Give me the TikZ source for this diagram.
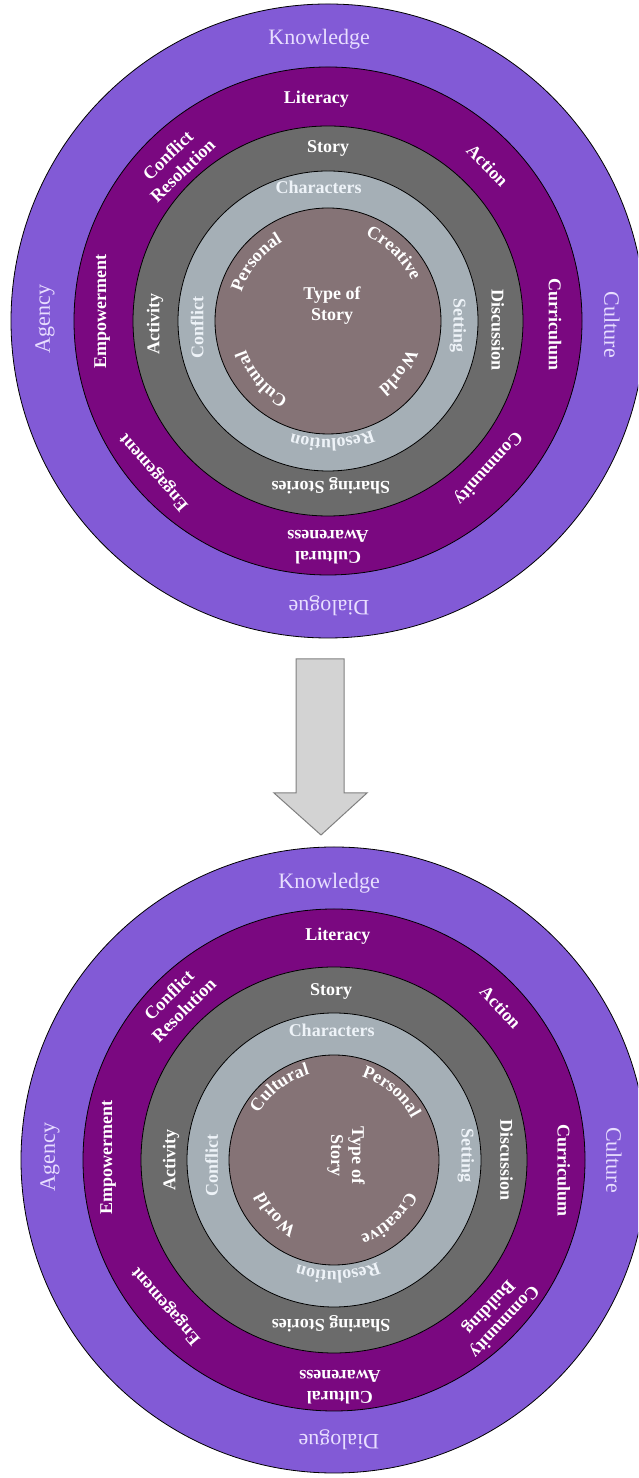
\documentclass[tikz,border=0pt]{standalone}
\usepackage{fontspec}
\setmainfont{Liberation Serif}
\usetikzlibrary{calc,decorations.text}

\definecolor{ringouter}{RGB}{130,90,214}
\definecolor{ringmagenta}{RGB}{122,8,128}
\definecolor{ringdark}{RGB}{107,107,107}
\definecolor{ringlight}{RGB}{165,175,182}
\definecolor{ringcore}{RGB}{133,115,118}
\definecolor{txtouter}{RGB}{232,222,255}
\definecolor{txtlight}{RGB}{238,243,248}
\definecolor{arrowfill}{RGB}{211,211,211}
\definecolor{arrowline}{RGB}{128,128,128}

\tikzset{
  ring/.style={draw=black, line width=0.8pt},
  outerlbl/.style={text=txtouter, font=\fontsize{22}{24}\selectfont, inner sep=0pt},
  boldlbl/.style={text=white, font=\fontsize{18}{21}\selectfont\bfseries, inner sep=0pt, align=center},
  lightlbl/.style={boldlbl, text=txtlight},
}

% straight label on a ring: style, name, centre, angle, radius, rotation, text
\newcommand{\ringlbl}[7]{%
  \node[#1, rotate=#6] (#2) at ($(#3)+(#4:#5)$) {#7};}

% label bent along a ring, read clockwise: centre, angle, baseline radius, colour, text
\newcommand{\arclbl}[5]{%
  \path[decorate, decoration={text along path, text align=center,
        text color=#4, text={|\fontsize{18}{21}\selectfont\bfseries|#5}}]
    ($(#1)+(#2+70:#3)$) arc[start angle=#2+70, end angle=#2-70, radius=#3];}

\begin{document}
\begin{tikzpicture}[x=1pt, y=1pt]
\useasboundingbox (0,0) rectangle (638,1478);
\fill[white] (0,0) rectangle (638,1478);
\clip (0,0) rectangle (638,1478);

\coordinate (c1) at (328,1157);
\coordinate (c2) at (334,318);

% ---------- upper wheel ----------
\draw[ring, fill=ringouter] (c1) circle (317);
\draw[ring, fill=ringmagenta] (c1) circle (254);
\draw[ring, fill=ringdark] (c1) circle (195);
\draw[ring, fill=ringlight] (c1) circle (150);
\draw[ring, fill=ringcore] (c1) circle (113);

\ringlbl{outerlbl}{t-knowledge}{c1}{91.8}{282}{0}{Knowledge}
\ringlbl{outerlbl}{t-culture}{c1}{-0.8}{284}{-90}{Culture}
\ringlbl{outerlbl}{t-dialogue}{c1}{-89.8}{285}{180}{Dialogue}
\ringlbl{outerlbl}{t-agency}{c1}{179.6}{283}{90}{Agency}

\ringlbl{boldlbl}{t-literacy}{c1}{93}{222}{0}{Literacy}
\ringlbl{boldlbl}{t-action}{c1}{44.3}{223}{-46}{Action}
\ringlbl{boldlbl}{t-curriculum}{c1}{-1}{227}{-90}{Curriculum}
\ringlbl{boldlbl}{t-community}{c1}{-42.6}{217}{-132}{Community}
\ringlbl{boldlbl}{t-awareness}{c1}{-90}{226}{180}{Cultural\\Awareness}
\ringlbl{boldlbl}{t-engagement}{c1}{221}{230}{131}{Engagement}
\ringlbl{boldlbl}{t-empowerment}{c1}{177.5}{226}{90}{Empowerment}
\ringlbl{boldlbl}{t-conflictres}{c1}{134}{220}{44}{Conflict\\Resolution}

\ringlbl{boldlbl}{t-story}{c1}{90}{173}{0}{Story}
\ringlbl{boldlbl}{t-discussion}{c1}{-3}{170}{-90}{Discussion}
\ringlbl{boldlbl}{t-sharing}{c1}{-89}{165}{180}{Sharing Stories}
\ringlbl{boldlbl}{t-activity}{c1}{181}{173}{90}{Activity}

\ringlbl{lightlbl}{t-characters}{c1}{94}{134}{0}{Characters}
\ringlbl{lightlbl}{t-setting}{c1}{-2}{130}{-90}{Setting}
\arclbl{c1}{-88}{118}{txtlight}{Resolution}
\ringlbl{lightlbl}{t-conflict}{c1}{183}{131}{90}{Conflict}

\node[boldlbl] (t-type) at ($(c1)+(4,15)$) {Type of\\Story};
\arclbl{c1}{141}{91}{white}{Personal}
\arclbl{c1}{46}{93}{white}{Creative}
\arclbl{c1}{-36}{84}{white}{World}
\arclbl{c1}{221}{87}{white}{Cultural}

% ---------- arrow between the wheels ----------
\coordinate (a1) at (296,819);
\coordinate (a2) at (344,819);
\coordinate (a3) at (344,685);
\coordinate (a4) at (367,685);
\coordinate (a5) at (321,643);
\coordinate (a6) at (274,685);
\coordinate (a7) at (296,685);
\draw[draw=arrowline, fill=arrowfill, line width=1pt, line join=miter]
  (a1) -- (a2) -- (a3) -- (a4) -- (a5) -- (a6) -- (a7) -- cycle;

% ---------- lower wheel ----------
\draw[ring, fill=ringouter] (c2) circle (313);
\draw[ring, fill=ringmagenta] (c2) circle (251);
\draw[ring, fill=ringdark] (c2) circle (193);
\draw[ring, fill=ringlight] (c2) circle (147);
\draw[ring, fill=ringcore] (c2) circle (105);

\ringlbl{outerlbl}{b-knowledge}{c2}{91}{277}{0}{Knowledge}
\ringlbl{outerlbl}{b-culture}{c2}{0}{280}{-90}{Culture}
\ringlbl{outerlbl}{b-dialogue}{c2}{-89}{280}{180}{Dialogue}
\ringlbl{outerlbl}{b-agency}{c2}{179.4}{284}{90}{Agency}

\ringlbl{boldlbl}{b-literacy}{c2}{89}{224}{0}{Literacy}
\ringlbl{boldlbl}{b-action}{c2}{42.5}{226}{-47}{Action}
\ringlbl{boldlbl}{b-curriculum}{c2}{-2.5}{230}{-90}{Curriculum}
\ringlbl{boldlbl}{b-community}{c2}{-43.5}{223.5}{-133}{Community\\Building}
\ringlbl{boldlbl}{b-awareness}{c2}{-88.5}{227}{180}{Cultural\\Awareness}
\ringlbl{boldlbl}{b-engagement}{c2}{221}{222}{131}{Engagement}
\ringlbl{boldlbl}{b-empowerment}{c2}{179.4}{226}{90}{Empowerment}
\ringlbl{boldlbl}{b-conflictres}{c2}{135}{223}{45}{Conflict\\Resolution}

\ringlbl{boldlbl}{b-story}{c2}{91}{169}{0}{Story}
\ringlbl{boldlbl}{b-discussion}{c2}{0}{172.5}{-90}{Discussion}
\ringlbl{boldlbl}{b-sharing}{c2}{-91}{164}{180}{Sharing Stories}
\ringlbl{boldlbl}{b-activity}{c2}{180}{163}{90}{Activity}

\ringlbl{lightlbl}{b-characters}{c2}{91}{130}{0}{Characters}
\ringlbl{lightlbl}{b-setting}{c2}{2}{132}{-90}{Setting}
\arclbl{c2}{-88}{111}{txtlight}{Resolution}
\ringlbl{lightlbl}{b-conflict}{c2}{182.7}{122.5}{90}{Conflict}

\node[boldlbl, rotate=-90] (b-type) at ($(c2)+(12,4.5)$) {Type of\\Story};
\arclbl{c2}{127}{89}{white}{Cultural}
\arclbl{c2}{50}{88}{white}{Personal}
\arclbl{c2}{-47}{80}{white}{Creative}
\arclbl{c2}{223}{77}{white}{World}
\end{tikzpicture}
\end{document}
